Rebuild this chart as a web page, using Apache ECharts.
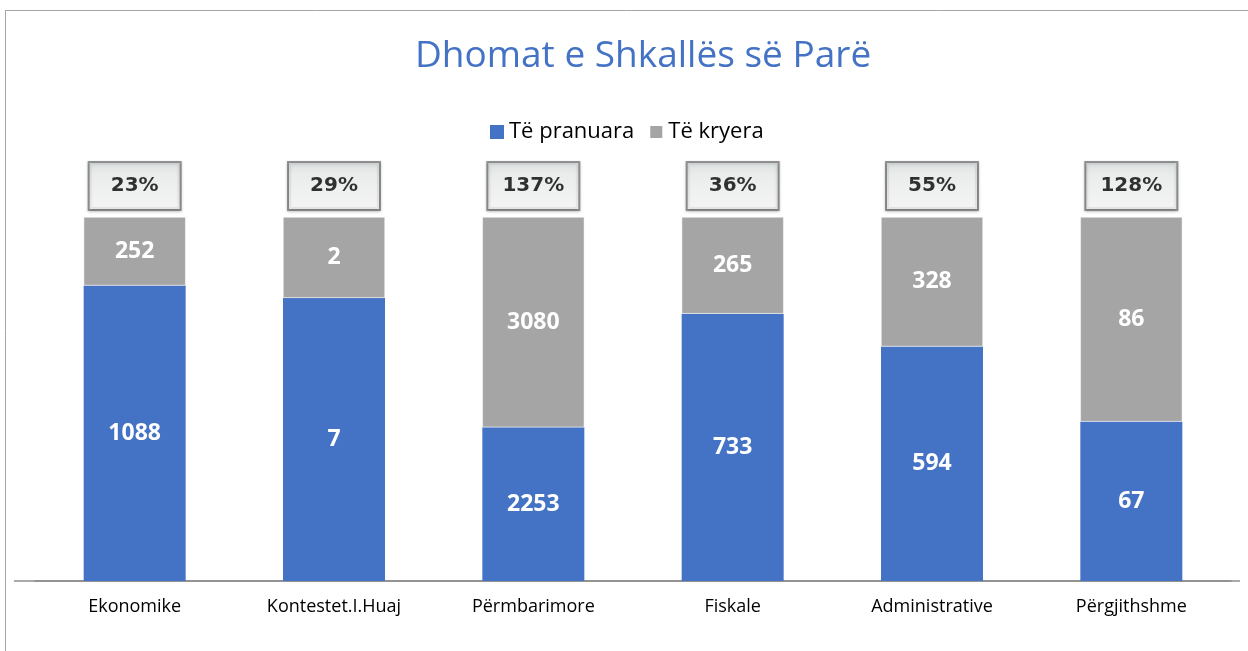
<!DOCTYPE html>
<html>
<head>
<meta charset="utf-8">
<script src="https://cdn.jsdelivr.net/npm/echarts@6/dist/echarts.min.js"></script>
<style>
  html, body { margin: 0; padding: 0; background: #fff; }
  #chart { width: 1248px; height: 651px; }
</style>
</head>
<body>
<div id="chart"></div>
<script>
// Dhomat e Shkallës së Parë
const categories = ['Ekonomike', 'Kontestet.I.Huaj', 'Përmbarimore', 'Fiskale', 'Administrative', 'Përgjithshme'];
const pranuara = [1088, 7, 2253, 733, 594, 67];
const kryera = [252, 2, 3080, 265, 328, 86];

// 100% stacked: each bar split into its two shares
const totals = pranuara.map((v, i) => v + kryera[i]);
const pranuaraShare = pranuara.map((v, i) => v / totals[i]);
const kryeraShare = kryera.map((v, i) => v / totals[i]);
const ratioLabels = kryera.map((v, i) => Math.round(v / pranuara[i] * 100) + '%');

const chart = echarts.init(document.getElementById('chart'));

const valueLabel = (arr) => ({
    show: true,
    position: 'inside',
    color: '#fff',
    fontSize: 23,
    fontWeight: 'bold',
    fontFamily: 'Open Sans',
    formatter: p => arr[p.dataIndex]
});

const option = {
    animation: false,
    title: {
        text: 'Dhomat e Shkallës së Parë',
        left: 410,
        top: 33,
        textStyle: { color: '#4472C4', fontSize: 37, fontWeight: 'normal', fontFamily: 'Open Sans' }
    },
    legend: {
        data: ['Të pranuara', 'Të kryera'],
        top: 116,
        left: 485,
        icon: 'rect',
        itemWidth: 14,
        itemHeight: 14,
        itemGap: 14,
        textStyle: { color: '#000', fontSize: 22, fontFamily: 'Open Sans' }
    },
    grid: { left: 35, width: 1196, top: 217, bottom: 70 },
    xAxis: {
        type: 'category',
        data: categories,
        axisLine: { lineStyle: { color: '#8c8c8c', width: 1.5 } },
        axisTick: { show: false },
        axisLabel: { color: '#000', fontSize: 18, margin: 17, fontFamily: 'Open Sans' }
    },
    yAxis: { type: 'value', min: 0, max: 1, show: false, splitLine: { show: false } },
    graphic: [
        { type: 'line', shape: { x1: 5, y1: 10.5, x2: 1248, y2: 10.5 }, style: { stroke: '#a6a6a6', lineWidth: 1 } },
        { type: 'line', shape: { x1: 5.5, y1: 10, x2: 5.5, y2: 651 }, style: { stroke: '#a6a6a6', lineWidth: 1 } },
        { type: 'line', shape: { x1: 14, y1: 581, x2: 1240, y2: 581 }, style: { stroke: '#8c8c8c', lineWidth: 1.5 } }
    ],
    series: [
        {
            name: 'Të pranuara',
            type: 'bar',
            stack: 'total',
            barWidth: 102,
            data: pranuaraShare,
            itemStyle: { color: '#4472C4' },
            label: valueLabel(pranuara)
        },
        {
            name: 'Të kryera',
            type: 'bar',
            stack: 'total',
            data: kryeraShare,
            itemStyle: { color: '#A5A5A5', borderColor: '#fff', borderWidth: 0.5 },
            label: valueLabel(kryera)
        },
        {
            name: 'raporti',
            type: 'scatter',
            symbolSize: 0,
            data: totals.map(() => 1),
            label: {
                show: true,
                position: 'top',
                distance: 8,
                formatter: p => ratioLabels[p.dataIndex],
                color: '#000',
                fontSize: 20,
                fontWeight: 'bold',
                fontFamily: 'DejaVu Sans',
                width: 90,
                height: 46,
                lineHeight: 46,
                align: 'center',
                backgroundColor: new echarts.graphic.LinearGradient(0, 0, 0, 1, [
                    { offset: 0, color: '#dde2e3' },
                    { offset: 0.25, color: '#f1f3f3' },
                    { offset: 1, color: '#ffffff' }
                ]),
                borderColor: '#7a7a7a',
                borderWidth: 2,
                shadowColor: 'rgba(0,0,0,0.25)',
                shadowBlur: 3,
                shadowOffsetY: 1
            }
        }
    ]
};

chart.setOption(option);
</script>
</body>
</html>
